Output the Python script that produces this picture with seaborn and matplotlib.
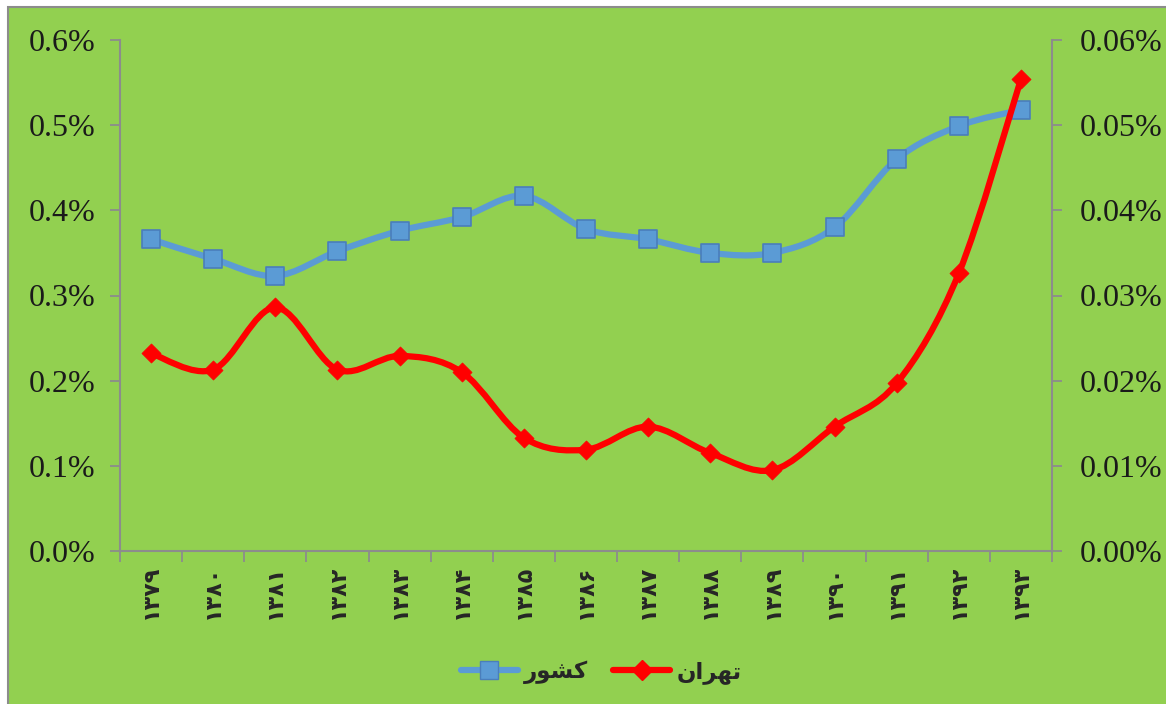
import numpy as np
import pandas as pd
import matplotlib
matplotlib.use("Agg")
import matplotlib.pyplot as plt
import seaborn as sns
from matplotlib.path import Path
from matplotlib.patches import PathPatch, Rectangle
from matplotlib.lines import Line2D
from matplotlib.ticker import FuncFormatter, FixedLocator

# data
years = ['۱۳۷۹', '۱۳۸۰', '۱۳۸۱', '۱۳۸۲', '۱۳۸۳', '۱۳۸۴', '۱۳۸۵', '۱۳۸۶',
         '۱۳۸۷', '۱۳۸۸', '۱۳۸۹', '۱۳۹۰', '۱۳۹۱', '۱۳۹۲', '۱۳۹۳']
country = [0.366, 0.343, 0.323, 0.352, 0.376, 0.392, 0.417, 0.378,
           0.366, 0.350, 0.350, 0.380, 0.460, 0.499, 0.518]      # left axis, %
tehran = [0.0232, 0.0213, 0.0286, 0.0213, 0.0229, 0.0210, 0.0133, 0.0119,
          0.0146, 0.0115, 0.0095, 0.0146, 0.0197, 0.0326, 0.0554]  # right axis, %
series_names = ['کشور', 'تهران']
# matplotlib has no Arabic shaping, so use presentation forms in visual order
display_names = {'کشور': '\ufead\ufeee\ufeb8\ufb90',
                 'تهران': '\ufee5\ufe8d\ufeae\ufeec\ufe97'}

GREEN = '#92d050'
BLUE = '#5b9bd5'
BLUE_EDGE = '#4a7ebb'
RED = '#ff0000'
GRAY = '#8c8c8c'


def smooth_path(xs, ys):
    """Excel-like smoothed line: Catmull-Rom as cubic Bezier segments."""
    pts = np.column_stack([xs, ys]).astype(float)
    padded = np.vstack([pts[0], pts, pts[-1]])
    verts = [pts[0]]
    codes = [Path.MOVETO]
    for i in range(len(pts) - 1):
        p0, p1, p2, p3 = padded[i], padded[i + 1], padded[i + 2], padded[i + 3]
        verts += [p1 + (p2 - p0) / 6, p2 - (p3 - p1) / 6, p2]
        codes += [Path.CURVE4] * 3
    return Path(verts, codes)


sns.set_theme(style='ticks')
plt.rcParams['font.family'] = ['Liberation Serif', 'DejaVu Sans']

df = pd.DataFrame({'x': np.arange(len(years)), 'country': country, 'tehran': tehran})

fig = plt.figure(figsize=(11.66, 7.04), dpi=100)
fig.patch.set_facecolor('white')
fig.patches.append(Rectangle((8 / 1166, -0.01), 1.0, 1.01 - 7 / 704, transform=fig.transFigure,
                             facecolor=GREEN, edgecolor=GRAY, lw=1.5, zorder=-10))

ax = fig.add_axes([120 / 1166, 1 - 551 / 704, (1052 - 120) / 1166, (551 - 40) / 704])
ax.set_facecolor('none')
ax2 = ax.twinx()
ax2.set_facecolor('none')

# blue series (left axis)
ax.add_patch(PathPatch(smooth_path(df['x'], df['country']), facecolor='none',
                       edgecolor=BLUE, lw=4.5, capstyle='round', zorder=2))
sns.scatterplot(data=df, x='x', y='country', ax=ax, marker='s', s=170,
                color=BLUE, edgecolor=BLUE_EDGE, linewidth=1.2, zorder=3, legend=False)

# red series (right axis)
ax2.add_patch(PathPatch(smooth_path(df['x'], df['tehran']), facecolor='none',
                        edgecolor=RED, lw=4.5, capstyle='round', zorder=2))
sns.scatterplot(data=df, x='x', y='tehran', ax=ax2, marker='D', s=95,
                color=RED, edgecolor=RED, linewidth=0.5, zorder=3, legend=False)

ax.set_xlim(-0.5, len(years) - 0.5)
ax.set_ylim(0, 0.6)
ax2.set_ylim(0, 0.06)
ax.set_yticks(np.arange(0, 0.61, 0.1))
ax2.set_yticks(np.arange(0, 0.061, 0.01))
ax.yaxis.set_major_formatter(FuncFormatter(lambda v, p: f'{v:.1f}%'))
ax2.yaxis.set_major_formatter(FuncFormatter(lambda v, p: f'{v:.2f}%'))

# category axis: tick marks between categories, labels centered
ax.xaxis.set_major_locator(FixedLocator(np.arange(-0.5, len(years), 1.0)))
ax.xaxis.set_major_formatter(FuncFormatter(lambda v, p: ''))
ax.xaxis.set_minor_locator(FixedLocator(np.arange(len(years))))
ax.set_xticklabels(years, minor=True, rotation=90, fontsize=16, fontweight='bold',
                   family=['DejaVu Sans'])
ax.tick_params(axis='x', which='minor', length=0, pad=10)
ax.tick_params(axis='x', which='major', length=8, width=1.3, color=GRAY, direction='out')
ax.set_xlabel('')
ax.set_ylabel('')
ax2.set_ylabel('')

ax.tick_params(axis='y', length=7, width=1.3, color=GRAY, labelsize=23, pad=11,
               labelcolor='#1a1a1a')
ax2.tick_params(axis='y', length=7, width=1.3, color=GRAY, labelsize=23, pad=13,
                labelcolor='#1a1a1a')

for a in (ax, ax2):
    a.spines['top'].set_visible(False)
    for side in ('left', 'right', 'bottom'):
        a.spines[side].set_color(GRAY)
        a.spines[side].set_linewidth(1.5)
ax.spines['right'].set_visible(False)
ax2.spines['left'].set_visible(False)
ax2.spines['bottom'].set_visible(False)

handles = [
    Line2D([], [], color=BLUE, lw=4.5, marker='s', markersize=13,
           markerfacecolor=BLUE, markeredgecolor=BLUE_EDGE, solid_capstyle='round'),
    Line2D([], [], color=RED, lw=4.5, marker='D', markersize=10,
           markerfacecolor=RED, markeredgecolor=RED, solid_capstyle='round'),
]
fig.legend(handles, [display_names[n] for n in series_names], loc='center',
           bbox_to_anchor=(601 / 1166, 1 - 672 / 704), ncol=2, frameon=False,
           handlelength=2.5, handletextpad=0.25, columnspacing=1.1,
           prop={'family': 'DejaVu Sans', 'size': 16.5, 'weight': 'bold'})

fig.savefig('out.png', dpi=100, facecolor=fig.get_facecolor())
